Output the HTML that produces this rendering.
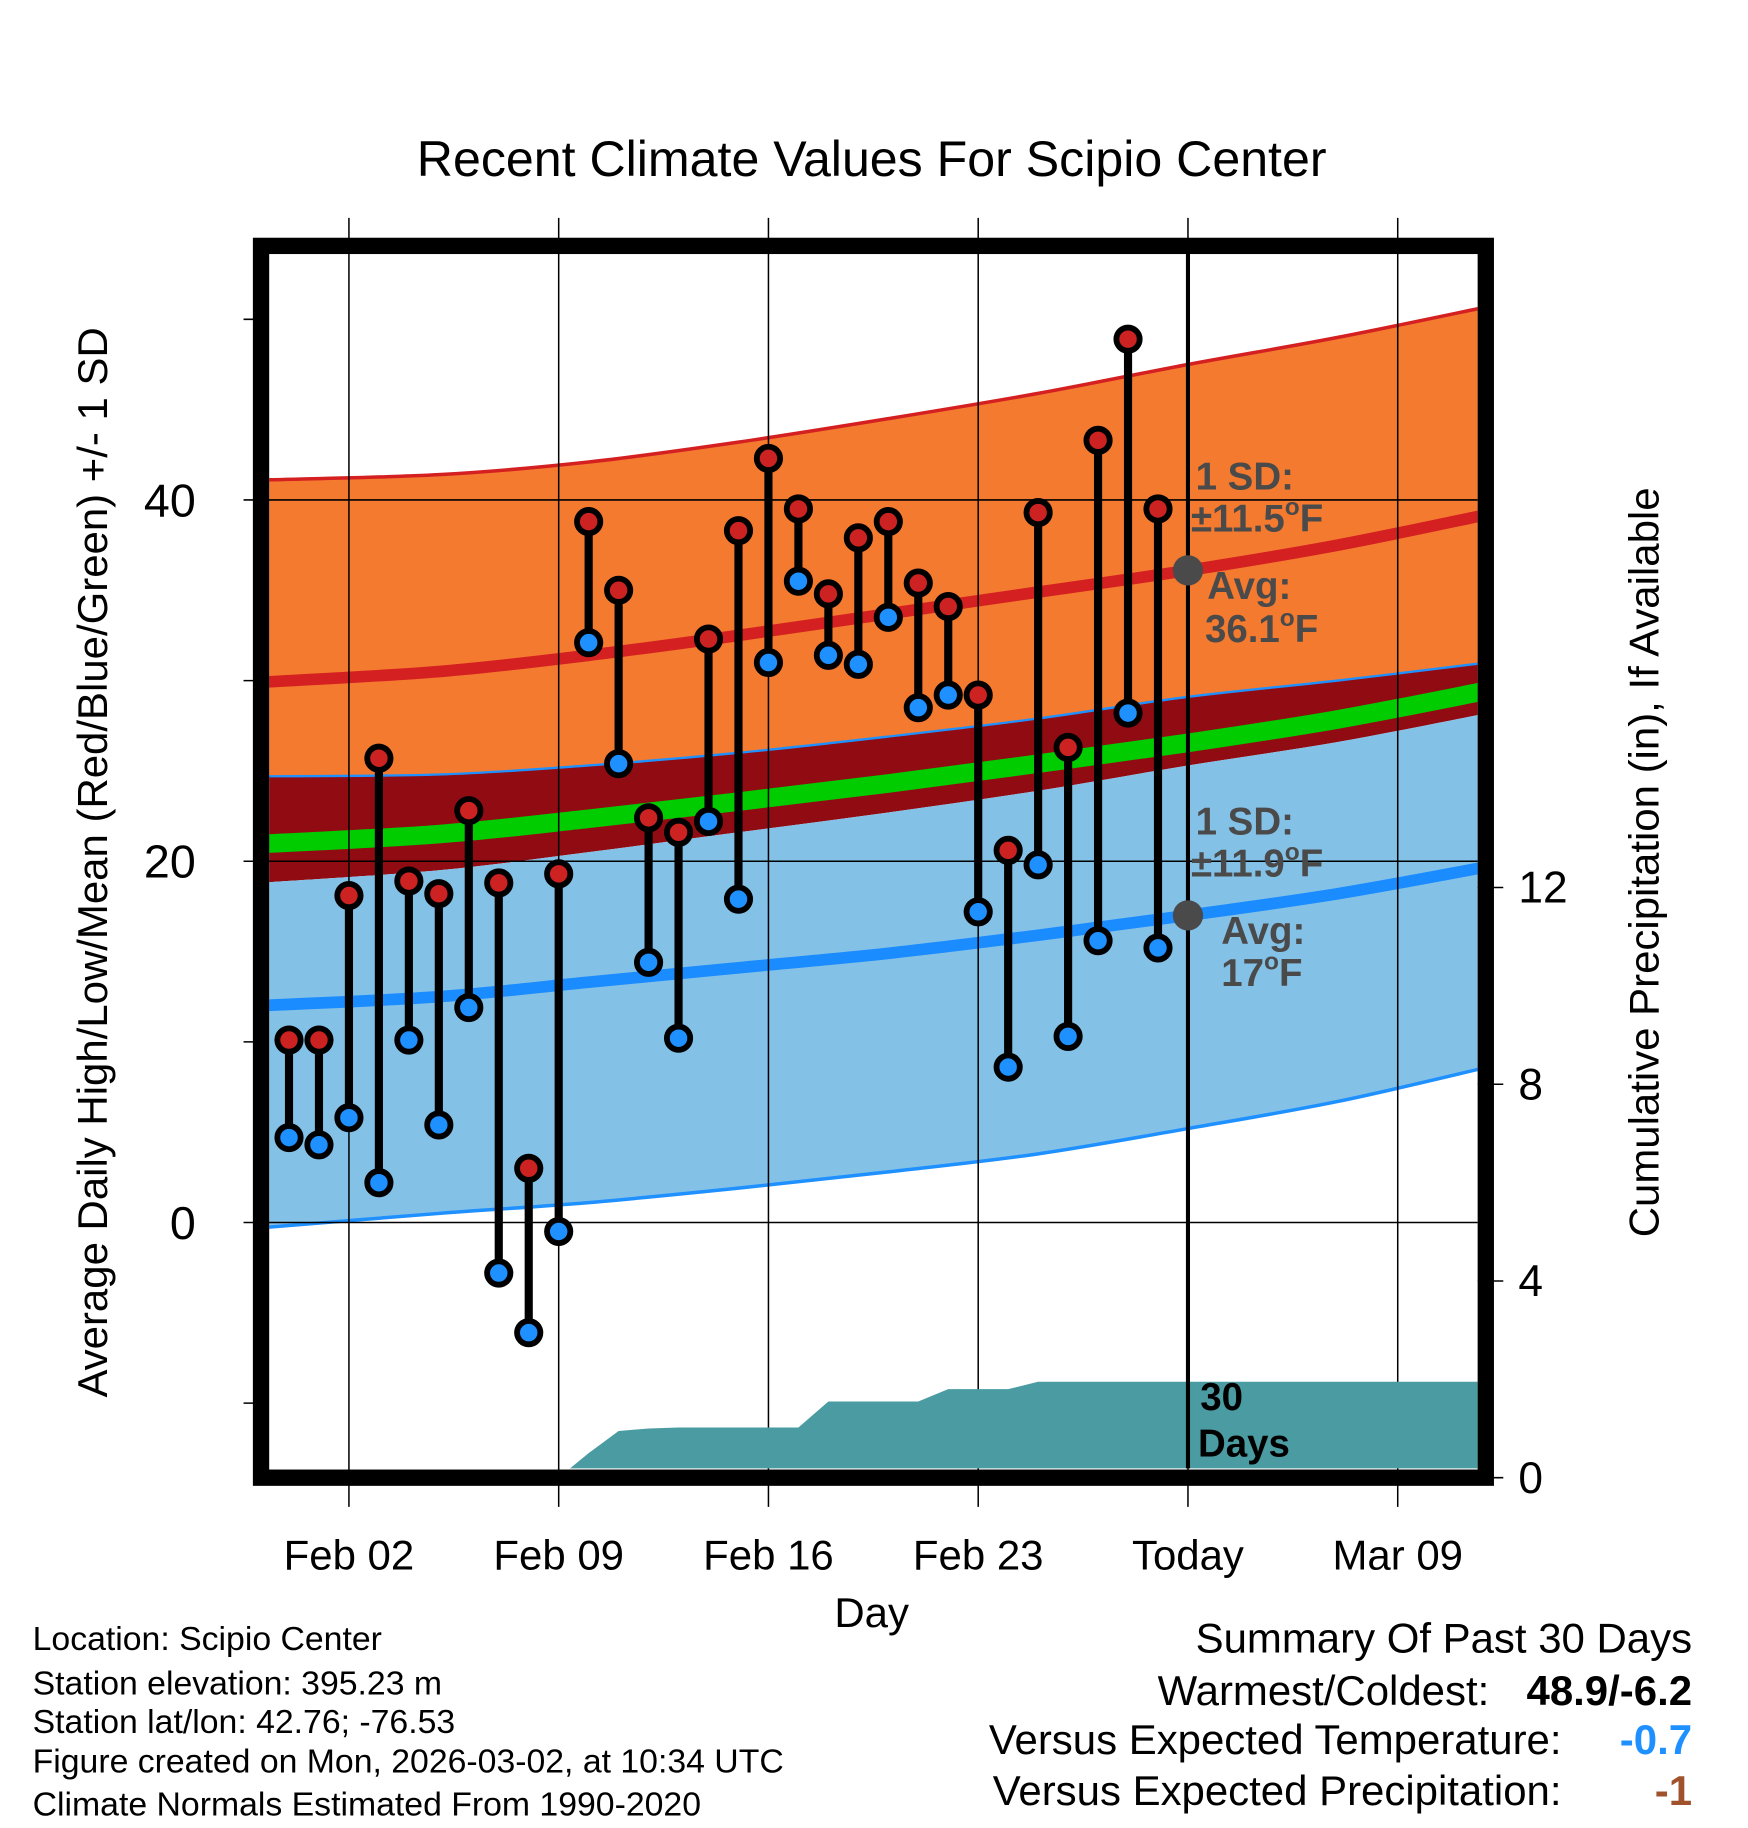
<!DOCTYPE html>
<html><head><meta charset="utf-8"><style>
html,body{margin:0;padding:0;background:#fff}
svg{display:block}
text{font-family:"Liberation Sans",sans-serif}
</style></head><body>
<svg id="chart" width="1748" height="1828" viewBox="0 0 1500 1568.6" preserveAspectRatio="none" xmlns="http://www.w3.org/2000/svg">
<defs><clipPath id="pc"><rect x="231" y="218" width="1037" height="1042"/></clipPath></defs>
<rect width="1500" height="1568.6" fill="#fff"/>
<text x="748" y="151" font-size="43" text-anchor="middle">Recent Climate Values For Scipio Center</text>
<g id="bands" clip-path="url(#pc)"></g>
<g id="grid"></g>
<g id="precip" clip-path="url(#pc)"></g>
<g id="marks"></g>
<g id="annot2" font-weight="bold" font-size="33" fill="#4a4a4a">
<text x="1026" y="420">1 SD:</text>
<text x="1022" y="456">±11.5<tspan font-size="21" dy="-14">o</tspan><tspan dy="14">F</tspan></text>
<text x="1036" y="514">Avg:</text>
<text x="1034" y="551">36.1<tspan font-size="21" dy="-14">o</tspan><tspan dy="14">F</tspan></text>
<text x="1026" y="716">1 SD:</text>
<text x="1022" y="752">±11.9<tspan font-size="21" dy="-14">o</tspan><tspan dy="14">F</tspan></text>
<text x="1048" y="810">Avg:</text>
<text x="1048" y="846">17<tspan font-size="21" dy="-14">o</tspan><tspan dy="14">F</tspan></text>
<text x="1030" y="1210" fill="#000">30</text>
<text x="1028" y="1250" fill="#000">Days</text>
</g>
<rect x="224" y="211" width="1051" height="1057" fill="none" stroke="#000" stroke-width="14"/>
<text x="748" y="1396" font-size="36" text-anchor="middle">Day</text>
<text transform="translate(92,740) rotate(-90)" font-size="36" text-anchor="middle">Average Daily High/Low/Mean (Red/Blue/Green) +/- 1 SD</text>
<text transform="translate(1423,740) rotate(-90)" font-size="36" text-anchor="middle">Cumulative Precipitation (in), If Available</text>
<g font-size="29">
<text x="28" y="1416">Location: Scipio Center</text>
<text x="28" y="1454">Station elevation: 395.23 m</text>
<text x="28" y="1487">Station lat/lon: 42.76; -76.53</text>
<text x="28" y="1521">Figure created on Mon, 2026-03-02, at 10:34 UTC</text>
<text x="28" y="1558">Climate Normals Estimated From 1990-2020</text>
</g>
<g font-size="36" text-anchor="end">
<text x="1452" y="1418">Summary Of Past 30 Days</text>
<text x="1278" y="1463">Warmest/Coldest:</text>
<text x="1452" y="1463" font-weight="bold">48.9/-6.2</text>
<text x="1340" y="1505">Versus Expected Temperature:</text>
<text x="1452" y="1505" font-weight="bold" fill="#1e90ff">-0.7</text>
<text x="1340" y="1549">Versus Expected Precipitation:</text>
<text x="1452" y="1549" font-weight="bold" fill="#a0522d">-1</text>
</g>
</svg>
<script>
const days=[0,1,2,3,4,5,6,7,8,9,10,11,12,13,14,15,16,17,18,19,20,21,22,23,24,25,26,27,28,29];
const highs=[10.1,10.1,18.1,25.7,18.9,18.2,22.8,18.8,3.0,19.3,38.8,35.0,22.4,21.6,32.3,38.3,42.3,39.5,34.8,37.9,38.8,35.4,34.1,29.2,20.6,39.3,26.3,43.3,48.9,39.5];
const lows=[4.7,4.3,5.8,2.2,10.1,5.4,11.9,-2.8,-6.1,-0.5,32.1,25.4,14.4,10.2,22.2,17.9,31.0,35.5,31.4,30.9,33.5,28.5,29.2,17.2,8.6,19.8,10.3,15.6,28.2,15.2];
const normDays=[-1,5,10,15,20,25,30,35,40];
const normHigh=[29.9,30.5,31.4,32.5,33.7,34.9,36.1,37.5,39.2];
const normLow=[12.0,12.5,13.3,14.1,14.9,15.9,17.0,18.2,19.7];
const highUpper=[41.1,41.4,42.1,43.2,44.5,45.9,47.5,49.0,50.7];
const highLower=[24.7,24.8,25.3,26.0,26.9,27.9,29.1,30.0,31.0];
const lowUpper=[18.8,19.5,20.5,21.6,22.7,23.9,25.3,26.6,28.2];
const lowLower=[-0.3,0.5,1.1,1.9,2.8,3.8,5.2,6.7,8.6];
const precipDays=[9,10,11,12,13,14,15,16,17,18,19,20,21,22,23,24,25,26,27,28,29,30,40];
const precipCum=[0,0.5,0.95,1.0,1.02,1.02,1.02,1.02,1.02,1.55,1.55,1.55,1.55,1.8,1.8,1.8,1.95,1.95,1.95,1.95,1.95,1.95,1.95];
const tempTicks=[0,20,40];
const precipTicks=[0,4,8,12];
const xTickDays=[2,9,16,23,30,37];
const xTickLabels=["Feb 02","Feb 09","Feb 16","Feb 23","Today","Mar 09"];

const NS="http://www.w3.org/2000/svg";
const X=d=>248+25.714*d;
const Y=t=>1049-15.5*t;
const P=p=>1268-42.2*p;
function mk(tag,attrs,parent){const e=document.createElementNS(NS,tag);for(const k in attrs)e.setAttribute(k,attrs[k]);document.getElementById(parent).appendChild(e);return e;}
function pts(vals){return normDays.map((d,i)=>[X(d),Y(vals[i])]);}
function smooth(p){let s="M"+p[0][0]+","+p[0][1];for(let i=0;i<p.length-1;i++){const p0=p[i-1]||p[i],p1=p[i],p2=p[i+1],p3=p[i+2]||p2;
s+=" C"+(p1[0]+(p2[0]-p0[0])/6)+","+(p1[1]+(p2[1]-p0[1])/6)+" "+(p2[0]-(p3[0]-p1[0])/6)+","+(p2[1]-(p3[1]-p1[1])/6)+" "+p2[0]+","+p2[1];}return s;}
function band(a,b){const pa=pts(a),pb=pts(b).reverse();return smooth(pa)+" L"+smooth(pb).slice(1)+" Z";}
const mean=normHigh.map((h,i)=>(h+normLow[i])/2);
let e;
e=mk("path",{d:band(highUpper,highLower),fill:"#f47a30"},"bands");


e=mk("path",{d:band(highLower,lowUpper),fill:"#900c12"},"bands");


e=mk("path",{d:band(lowUpper,lowLower),fill:"#84c1e7"},"bands");


e=mk("path",{d:smooth(pts(highUpper)),fill:"none",stroke:"#d42020","stroke-width":3},"bands");


e=mk("path",{d:smooth(pts(highLower)),fill:"none",stroke:"#1e90ff","stroke-width":2},"bands");


e=mk("path",{d:smooth(pts(lowLower)),fill:"none",stroke:"#1e90ff","stroke-width":3},"bands");


e=mk("path",{d:smooth(pts(mean)),fill:"none",stroke:"#00cc00","stroke-width":16},"bands");


e=mk("path",{d:smooth(pts(normHigh)),fill:"none",stroke:"#d42020","stroke-width":10},"bands");


e=mk("path",{d:smooth(pts(normLow)),fill:"none",stroke:"#1a8cff","stroke-width":10},"bands");


xTickDays.forEach((d,i)=>{
 e=mk("line",{x1:X(d),x2:X(d),y1:187,y2:1293,stroke:"#000","stroke-width":1.3},"grid");
 
 
 e=mk("text",{x:X(d),y:1347,"font-size":36,"text-anchor":"middle"},"grid");e.textContent=xTickLabels[i];
 
 
});
tempTicks.forEach(t=>{
 e=mk("line",{x1:209,x2:1268,y1:Y(t),y2:Y(t),stroke:"#000","stroke-width":1.3},"grid");
 
 
 e=mk("text",{x:168,y:Y(t)+14,"font-size":40,"text-anchor":"end"},"grid");e.textContent=t;
 
 
});
[-10,10,30,50].forEach(t=>{
 e=mk("line",{x1:209,x2:224,y1:Y(t),y2:Y(t),stroke:"#000","stroke-width":1.3},"grid");
 
 
});
precipTicks.forEach(p=>{
 e=mk("line",{x1:1268,x2:1290,y1:P(p),y2:P(p),stroke:"#000","stroke-width":1.3},"grid");
 
 
 e=mk("text",{x:1303,y:P(p)+13,"font-size":38},"grid");e.textContent=p;
 
 
});
let pd="M"+X(precipDays[0])+","+P(0);
precipDays.forEach((d,i)=>{pd+=" L"+X(d)+","+P(precipCum[i]);});
pd+=" L"+X(precipDays[precipDays.length-1])+","+P(0)+" Z";
e=mk("path",{d:pd,fill:"#4a9ba2"},"precip");


e=mk("line",{x1:X(30),x2:X(30),y1:218,y2:1260,stroke:"#000","stroke-width":3.5},"marks");


days.forEach((d,i)=>{
 e=mk("line",{x1:X(d),x2:X(d),y1:Y(highs[i]),y2:Y(lows[i]),stroke:"#000","stroke-width":7},"marks");
 
 
});
days.forEach((d,i)=>{
 e=mk("circle",{cx:X(d),cy:Y(highs[i]),r:10,fill:"#cc2222",stroke:"#000","stroke-width":5},"marks");
 
 
 e=mk("circle",{cx:X(d),cy:Y(lows[i]),r:10,fill:"#1e90ff",stroke:"#000","stroke-width":5},"marks");
 
 
});
e=mk("circle",{cx:X(30),cy:Y(normHigh[6]),r:13,fill:"#4a4a4a"},"marks");


e=mk("circle",{cx:X(30),cy:Y(normLow[6]),r:13,fill:"#4a4a4a"},"marks");


</script>
</body></html>
